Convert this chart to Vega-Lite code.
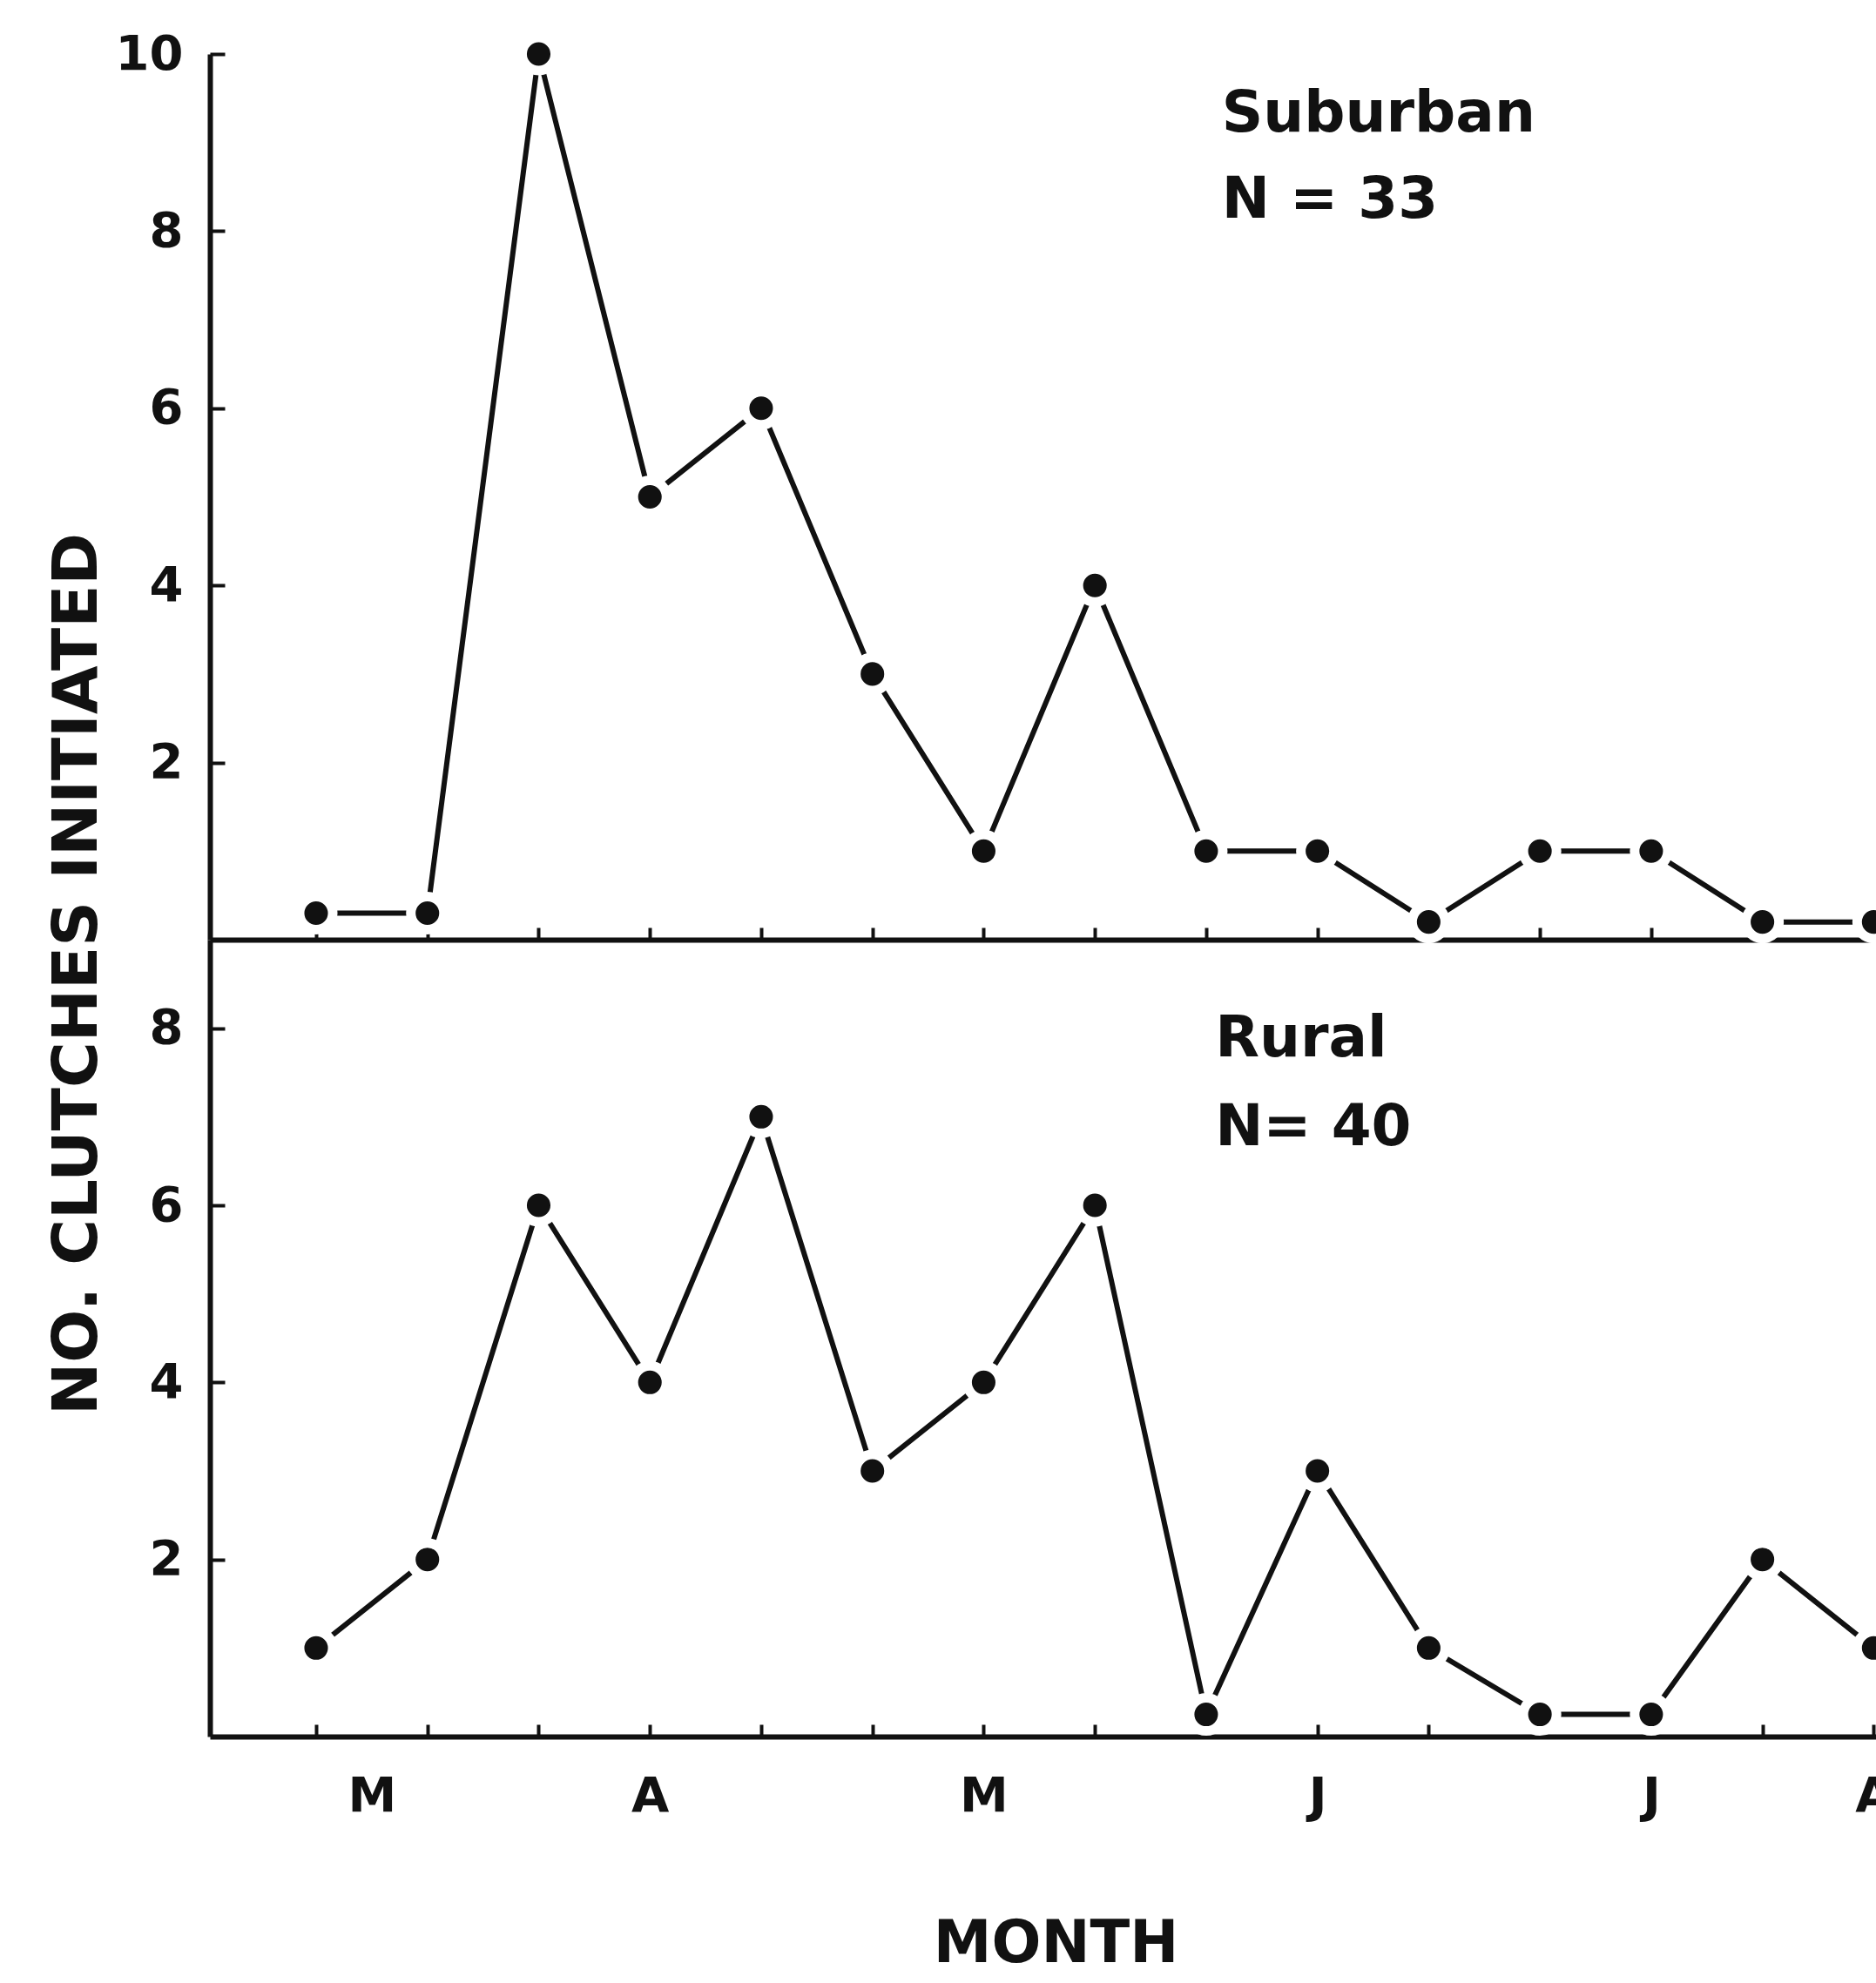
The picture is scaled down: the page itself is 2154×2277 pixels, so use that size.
{
  "$schema": "https://vega.github.io/schema/vega-lite/v6.json",
  "padding": {"left": 51, "top": 20, "right": 0, "bottom": 0},
  "background": "white",
  "bounds": "flush",
  "spacing": 0,
  "config": {
    "view": {"stroke": null},
    "font": "DejaVu Sans",
    "axis": {
      "grid": false,
      "domainColor": "#111",
      "domainWidth": 6,
      "tickColor": "#111",
      "tickWidth": 4,
      "labelColor": "#111",
      "labelFont": "DejaVu Sans",
      "labelFontWeight": "bold",
      "labelFontSize": 56,
      "labelFlush": false,
      "labelOverlap": false,
      "titleFont": "DejaVu Sans",
      "titleFontWeight": "bold",
      "titleColor": "#111",
      "zindex": 1
    }
  },
  "data": {
    "values": [
      {"habitat": "Suburban", "week": 0, "count": 0.3},
      {"habitat": "Suburban", "week": 1, "count": 0.3},
      {"habitat": "Suburban", "week": 2, "count": 10},
      {"habitat": "Suburban", "week": 3, "count": 5},
      {"habitat": "Suburban", "week": 4, "count": 6},
      {"habitat": "Suburban", "week": 5, "count": 3},
      {"habitat": "Suburban", "week": 6, "count": 1},
      {"habitat": "Suburban", "week": 7, "count": 4},
      {"habitat": "Suburban", "week": 8, "count": 1},
      {"habitat": "Suburban", "week": 9, "count": 1},
      {"habitat": "Suburban", "week": 10, "count": 0.2},
      {"habitat": "Suburban", "week": 11, "count": 1},
      {"habitat": "Suburban", "week": 12, "count": 1},
      {"habitat": "Suburban", "week": 13, "count": 0.2},
      {"habitat": "Suburban", "week": 14, "count": 0.2},
      {"habitat": "Rural", "week": 0, "count": 1},
      {"habitat": "Rural", "week": 1, "count": 2},
      {"habitat": "Rural", "week": 2, "count": 6},
      {"habitat": "Rural", "week": 3, "count": 4},
      {"habitat": "Rural", "week": 4, "count": 7},
      {"habitat": "Rural", "week": 5, "count": 3},
      {"habitat": "Rural", "week": 6, "count": 4},
      {"habitat": "Rural", "week": 7, "count": 6},
      {"habitat": "Rural", "week": 8, "count": 0.25},
      {"habitat": "Rural", "week": 9, "count": 3},
      {"habitat": "Rural", "week": 10, "count": 1},
      {"habitat": "Rural", "week": 11, "count": 0.25},
      {"habitat": "Rural", "week": 12, "count": 0.25},
      {"habitat": "Rural", "week": 13, "count": 2},
      {"habitat": "Rural", "week": 14, "count": 1}
    ]
  },
  "vconcat": [
    {
      "width": 1987,
      "height": 1017,
      "layer": [
        {
          "transform": [{"filter": "datum.habitat == 'Suburban'"}],
          "mark": {"type": "line", "color": "#111", "strokeWidth": 6},
          "encoding": {
            "x": {
              "field": "week", "type": "quantitative",
              "scale": {"domain": [-0.955, 14.6], "nice": false, "zero": false},
              "axis": {"values": [0,1,2,3,4,5,6,7,8,9,10,11,12,13,14], "tickSize": -14, "labels": false, "title": null}
            },
            "y": {
              "field": "count", "type": "quantitative",
              "scale": {"domain": [0, 10], "nice": false},
              "axis": {"values": [2,4,6,8,10], "format": "d", "tickSize": -17, "labelPadding": 48, "title": null}
            }
          }
        },
        {
          "transform": [{"filter": "datum.habitat == 'Suburban'"}],
          "mark": {"type": "point", "shape": "circle", "filled": true, "fill": "#111", "stroke": "white", "strokeWidth": 11, "size": 1450, "opacity": 1, "strokeOpacity": 1},
          "encoding": {
            "x": {"field": "week", "type": "quantitative"},
            "y": {"field": "count", "type": "quantitative"}
          }
        },
        {
          "data": {"values": [{"label": "Suburban"}]},
          "mark": {"type": "text", "align": "left", "baseline": "alphabetic", "fontSize": 66, "fontWeight": "bold", "font": "DejaVu Sans", "color": "#111"},
          "encoding": {
            "x": {"datum": 8.14, "type": "quantitative"},
            "y": {"datum": 9.12, "type": "quantitative"},
            "text": {"field": "label"}
          }
        },
        {
          "data": {"values": [{"label": "N = 33"}]},
          "mark": {"type": "text", "align": "left", "baseline": "alphabetic", "fontSize": 66, "fontWeight": "bold", "font": "DejaVu Sans", "color": "#111"},
          "encoding": {
            "x": {"datum": 8.14, "type": "quantitative"},
            "y": {"datum": 8.15, "type": "quantitative"},
            "text": {"field": "label"}
          }
        }
      ]
    },
    {
      "width": 1987,
      "height": 915,
      "layer": [
        {
          "transform": [{"filter": "datum.habitat == 'Rural'"}],
          "mark": {"type": "line", "color": "#111", "strokeWidth": 6},
          "encoding": {
            "x": {
              "field": "week", "type": "quantitative",
              "scale": {"domain": [-0.955, 14.6], "nice": false, "zero": false},
              "axis": {
                "values": [0,0.5,1,2,3,4,5,6,7,8,9,10,11,12,13,14],
                "tickSize": -14,
                "tickOpacity": {"condition": {"test": "datum.value == 0.5", "value": 0}, "value": 1},
                "labelExpr": "datum.value == 0.5 ? 'M' : datum.value == 3 ? 'A' : datum.value == 6 ? 'M' : datum.value == 9 ? 'J' : datum.value == 12 ? 'J' : datum.value == 14 ? 'A' : ''",
                "labelBaseline": "alphabetic",
                "labelPadding": 99,
                "title": "MONTH",
                "titleFontSize": 67,
                "titleBaseline": "alphabetic",
                "titleX": 971,
                "titleY": 258
              }
            },
            "y": {
              "field": "count", "type": "quantitative",
              "scale": {"domain": [0, 9], "nice": false},
              "axis": {
                "values": [2,4,6,8], "format": "d", "tickSize": -17, "labelPadding": 48,
                "title": "NO. CLUTCHES INITIATED",
                "titleFontSize": 72,
                "titleAngle": 270,
                "titleAlign": "center",
                "titleBaseline": "middle",
                "titleX": -153,
                "titleY": 39
              }
            }
          }
        },
        {
          "transform": [{"filter": "datum.habitat == 'Rural'"}],
          "mark": {"type": "point", "shape": "circle", "filled": true, "fill": "#111", "stroke": "white", "strokeWidth": 11, "size": 1450, "opacity": 1, "strokeOpacity": 1},
          "encoding": {
            "x": {"field": "week", "type": "quantitative"},
            "y": {"field": "count", "type": "quantitative"}
          }
        },
        {
          "data": {"values": [{"label": "Rural"}]},
          "mark": {"type": "text", "align": "left", "baseline": "alphabetic", "fontSize": 66, "fontWeight": "bold", "font": "DejaVu Sans", "color": "#111"},
          "encoding": {
            "x": {"datum": 8.08, "type": "quantitative"},
            "y": {"datum": 7.68, "type": "quantitative"},
            "text": {"field": "label"}
          }
        },
        {
          "data": {"values": [{"label": "N= 40"}]},
          "mark": {"type": "text", "align": "left", "baseline": "alphabetic", "fontSize": 66, "fontWeight": "bold", "font": "DejaVu Sans", "color": "#111"},
          "encoding": {
            "x": {"datum": 8.08, "type": "quantitative"},
            "y": {"datum": 6.68, "type": "quantitative"},
            "text": {"field": "label"}
          }
        }
      ]
    }
  ]
}
